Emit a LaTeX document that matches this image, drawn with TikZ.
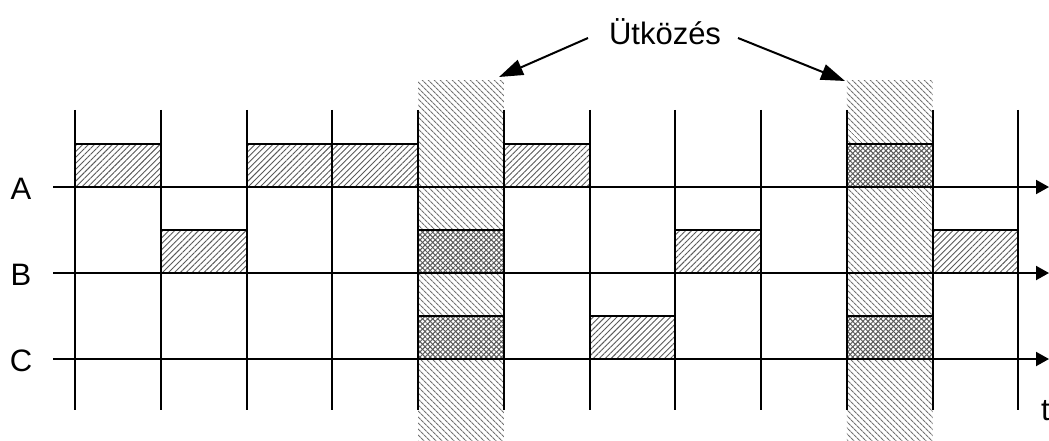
\documentclass[tikz,border=0pt]{standalone}
\usepackage{fontspec}
\setmainfont{Liberation Sans}
\usetikzlibrary{patterns.meta,arrows.meta}
\tikzset{
  boxhatch/.style={pattern={Lines[angle=45,distance=4.2pt,line width=0.9pt]}, pattern color=black!65},
  colhatch/.style={pattern={Lines[angle=-45,distance=4pt,line width=1.1pt]}, pattern color=black!55},
  xhatchA/.style={pattern={Lines[angle=45,distance=3.6pt,line width=1pt]}, pattern color=black!65},
  xhatchB/.style={pattern={Lines[angle=-45,distance=3.6pt,line width=1pt]}, pattern color=black!65},
  border/.style={draw=black, line width=2pt},
  vline/.style={draw=black, line width=2pt},
  axis/.style={draw=black, line width=2pt, -{Triangle[length=13pt,width=14pt]}},
  callout/.style={draw=black, line width=2pt, -{Triangle[length=24pt,width=16pt]}},
  lbl/.style={font=\fontsize{31}{31}\selectfont, inner sep=0pt},
}
\begin{document}
\begin{tikzpicture}[x=1pt,y=-1pt]
\useasboundingbox (0,0) rectangle (1049,441);
% slot x positions
\def\sx#1{75+85.75*#1}
% collision columns
\foreach \i/\n in {4/colA,9/colB}{
  \fill[white] ({\sx{\i}},81) rectangle ({\sx{\i}+85.75},441);
  \fill[colhatch] ({\sx{\i}},81) coordinate (\n) rectangle ({\sx{\i}+85.75},441);
}
% normal boxes: slot/axis y
\foreach \i/\y in {0/187,2/187,3/187,5/187,1/273,7/273,10/273,6/359}{
  \path[boxhatch] ({\sx{\i}},\y-43) rectangle ({\sx{\i}+85.75},\y);
  \path[border] ({\sx{\i}},\y-43) rectangle ({\sx{\i}+85.75},\y);
}
% collision boxes
\foreach \i/\y in {4/273,4/359,9/187,9/359}{
  \fill[white] ({\sx{\i}},\y-43) rectangle ({\sx{\i}+85.75},\y);
  \path[xhatchA] ({\sx{\i}},\y-43) rectangle ({\sx{\i}+85.75},\y);
  \path[xhatchB] ({\sx{\i}},\y-43) rectangle ({\sx{\i}+85.75},\y);
  \path[border] ({\sx{\i}},\y-43) rectangle ({\sx{\i}+85.75},\y);
}
% vertical slot lines
\foreach \i in {0,...,11}{
  \coordinate (vt\i) at ({\sx{\i}},110);
  \coordinate (vb\i) at ({\sx{\i}},410);
  \draw[vline] (vt\i) -- (vb\i);
}
% axes
\foreach \n/\y in {A/187,B/273,C/359}{
  \coordinate (s\n) at (53,\y);
  \coordinate (e\n) at (1049,\y);
  \draw[axis] (s\n) -- (e\n);
  \node[lbl, anchor=base] (l\n) at (21,\y+12) {\n};
}
\node[lbl, anchor=base west] (t) at (1041,420) {t};
% callout
\node[lbl, anchor=base] (utk) at (665,45) {Ütközés};
\coordinate (p1) at (588,38);
\coordinate (q1) at (499,77);
\coordinate (p2) at (738,38);
\coordinate (q2) at (845,81);
\draw[callout] (p1) -- (q1);
\draw[callout] (p2) -- (q2);
\end{tikzpicture}
\end{document}
